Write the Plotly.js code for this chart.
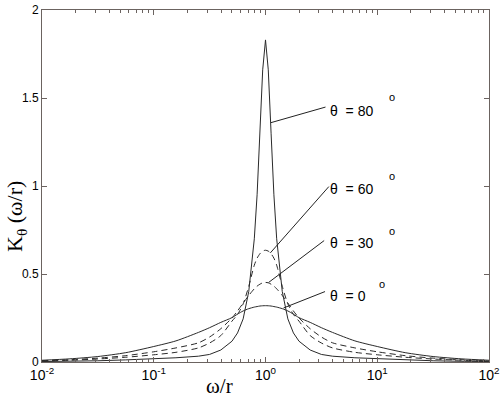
<!DOCTYPE html>
<html>
<head>
<meta charset="utf-8">
<script src="https://cdn.plot.ly/plotly-3.0.1.min.js"></script>
<style>html,body{margin:0;padding:0;background:#fff;}#chart{width:500px;height:397px;}</style>
</head>
<body>
<div id="chart"></div>
<script>
// omega/r sample points
var xVals = [0.01, 0.0178, 0.0316, 0.0562, 0.1, 0.158, 0.251, 0.316, 0.398, 0.501, 0.562, 0.631, 0.708, 0.794, 0.841, 0.891, 0.944,
             1, 1.059, 1.122, 1.189, 1.259, 1.413, 1.585, 1.778, 1.995, 2.512, 3.162, 3.981, 6.31, 10, 17.78, 31.62, 56.23, 100];
// K_theta values
var k0  = [0.010, 0.018, 0.031, 0.053, 0.088, 0.120, 0.168, 0.195, 0.225, 0.252, 0.272, 0.290, 0.303, 0.312, 0.315, 0.318, 0.3195,
           0.320, 0.3195, 0.318, 0.315, 0.312, 0.303, 0.290, 0.272, 0.252, 0.225, 0.195, 0.168, 0.120, 0.088, 0.053, 0.031, 0.018, 0.010];
var k30 = [0.008, 0.013, 0.022, 0.036, 0.058, 0.080, 0.109, 0.142, 0.189, 0.250, 0.290, 0.335, 0.378, 0.416, 0.431, 0.442, 0.450,
           0.452, 0.450, 0.442, 0.431, 0.416, 0.378, 0.335, 0.290, 0.250, 0.189, 0.142, 0.109, 0.080, 0.058, 0.036, 0.022, 0.013, 0.008];
var k60 = [0.006, 0.010, 0.017, 0.027, 0.041, 0.055, 0.080, 0.108, 0.150, 0.232, 0.270, 0.330, 0.430, 0.550, 0.590, 0.615, 0.630,
           0.635, 0.630, 0.615, 0.590, 0.550, 0.430, 0.330, 0.270, 0.232, 0.150, 0.108, 0.080, 0.055, 0.041, 0.027, 0.017, 0.010, 0.006];
var k80 = [0.0025, 0.004, 0.007, 0.012, 0.018, 0.024, 0.033, 0.043, 0.068, 0.118, 0.165, 0.245, 0.400, 0.700, 0.950, 1.300, 1.660,
           1.830, 1.660, 1.300, 0.950, 0.700, 0.400, 0.245, 0.165, 0.118, 0.068, 0.043, 0.033, 0.024, 0.018, 0.012, 0.007, 0.004, 0.0025];

var curveLabels = ["θ\u00a0\u00a0= 80", "θ\u00a0\u00a0= 60", "θ\u00a0\u00a0= 30", "θ\u00a0\u00a0= 0"];
var xTicks = [0.01, 0.1, 1, 10, 100];
var xTickText = ["10<sup>-2</sup>", "10<sup>-1</sup>", "10<sup>0</sup>", "10<sup>1</sup>", "10<sup>2</sup>"];
var yTicks = [0, 0.5, 1, 1.5, 2];
var yTickText = ["0", "0.5", "1", "1.5", "2"];

var lineCol = '#2a2a2a';
function tr(y, dash, smooth) {
  return {x: xVals, y: y, type: 'scatter', mode: 'lines',
          line: {color: lineCol, width: 1, dash: dash, shape: smooth ? 'spline' : 'linear', smoothing: 0.7},
          hoverinfo: 'skip', showlegend: false};
}
var data = [tr(k0, 'solid', true), tr(k30, '6px,4px', true), tr(k60, '6px,4px', true), tr(k80, 'solid', false)];

function px2x(px) { return (px - 42) / 447; }
function px2y(py) { return (362 - py) / 352; }

var lblFont = {family: 'Liberation Sans, Arial, sans-serif', size: 14, color: '#000'};
var annotations = [];
// pointer lines (head on the curve, tail toward the label)
var pointers = [
  {x: Math.log10(1.12), y: 1.36, ax: 56, ay: -16},
  {x: Math.log10(1.105), y: 0.62, ax: 60, ay: -68},
  {x: Math.log10(1.067), y: 0.452, ax: 57, ay: -43},
  {x: Math.log10(1.45), y: 0.307, ax: 43, ay: -17}
];
pointers.forEach(function (p) {
  annotations.push({x: p.x, y: p.y, xref: 'x', yref: 'y', ax: p.ax, ay: p.ay, text: ' ',
    font: {size: 1}, showarrow: true, arrowhead: 0, arrowwidth: 1, arrowcolor: '#222',
    standoff: 0, startstandoff: 0});
});
var labelPos = [[328, 111], [328, 189], [328, 243], [328, 296]];
var degPos = [[391.5, 97.5], [392, 176], [391.5, 231], [382, 283.5]];
for (var i = 0; i < 4; i++) {
  annotations.push({xref: 'paper', yref: 'paper', x: px2x(labelPos[i][0]), y: px2y(labelPos[i][1]),
    xanchor: 'left', yanchor: 'middle', text: curveLabels[i], showarrow: false, font: lblFont});
  annotations.push({xref: 'paper', yref: 'paper', x: px2x(degPos[i][0]), y: px2y(degPos[i][1]),
    xanchor: 'center', yanchor: 'middle', text: 'o', showarrow: false,
    font: {family: 'Liberation Sans, Arial, sans-serif', size: 11, color: '#000'}});
}
// axis titles
annotations.push({xref: 'paper', yref: 'paper', x: px2x(219), y: px2y(386), xanchor: 'center', yanchor: 'middle',
  text: 'ω/r', showarrow: false, font: {family: 'Liberation Serif, Times New Roman, serif', size: 21, color: '#000'}});
annotations.push({xref: 'paper', yref: 'paper', x: px2x(16), y: px2y(217), xanchor: 'center', yanchor: 'middle',
  text: 'K<sub>θ</sub> (ω/r)', textangle: -90, showarrow: false,
  font: {family: 'Liberation Serif, Times New Roman, serif', size: 22, color: '#000'}});

var axCol = '#6b6360';
var layout = {
  width: 500, height: 397,
  margin: {l: 42, r: 11, t: 10, b: 35, pad: 0},
  paper_bgcolor: '#fff', plot_bgcolor: '#fff',
  font: {family: 'Liberation Sans, Arial, sans-serif', size: 12, color: '#000'},
  xaxis: {type: 'log', range: [-2, 2], tickvals: xTicks, ticktext: xTickText, showgrid: false, zeroline: false,
          showline: true, linecolor: axCol, linewidth: 1, mirror: 'ticks', ticks: 'inside', ticklen: 5,
          tickcolor: axCol, tickfont: {size: 14},
          minor: {ticks: 'inside', ticklen: 3, tickcolor: axCol, dtick: 'D1', showgrid: false}},
  yaxis: {range: [0, 2], tickvals: yTicks, ticktext: yTickText, showgrid: false, zeroline: false,
          showline: true, linecolor: axCol, linewidth: 1, mirror: 'ticks', ticks: 'inside', ticklen: 5,
          tickcolor: axCol, tickfont: {size: 12}},
  annotations: annotations
};
Plotly.newPlot('chart', data, layout, {staticPlot: true, displayModeBar: false});
</script>
</body>
</html>
